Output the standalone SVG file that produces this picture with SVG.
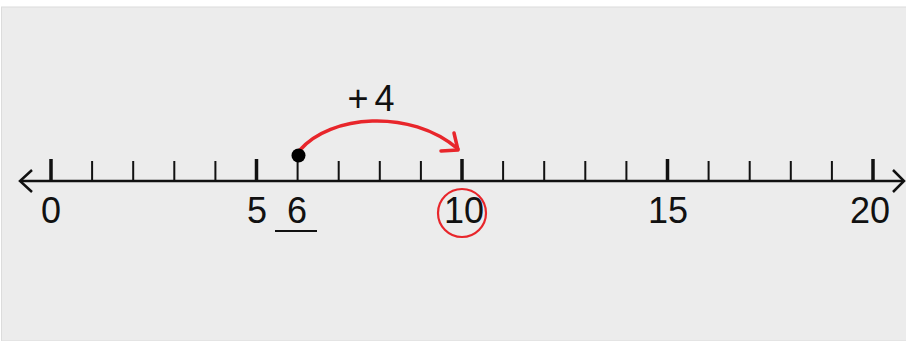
<svg xmlns="http://www.w3.org/2000/svg" width="906" height="341" viewBox="0 0 906 341">
<style>
.tk{stroke:#111;stroke-width:2}
.mj{stroke:#111;stroke-width:3.5}
.lb{font-family:"Liberation Sans",Arial,sans-serif;font-size:36px;fill:#111;text-anchor:middle}
.red{stroke:#e8262b;fill:none;stroke-width:3.5;stroke-linecap:round;stroke-linejoin:round}
</style>
<rect x="0" y="0" width="906" height="341" fill="#ffffff"/>
<rect x="1.5" y="7" width="905" height="334" fill="#ececec" stroke="#dcdcdc" stroke-width="1"/>
<g id="axis">
<line x1="20" y1="181" x2="904" y2="181" stroke="#111" stroke-width="2.5"/>
<polyline points="32,170 20,181 32,192" fill="none" stroke="#111" stroke-width="2.5"/>
<polyline points="893,170 904,181 893,192" fill="none" stroke="#111" stroke-width="2.5"/>
</g>
<g id="ticks">
<line class="mj" x1="51" y1="159" x2="51" y2="181"/>
<line class="tk" x1="92.1" y1="161" x2="92.1" y2="181"/>
<line class="tk" x1="133.2" y1="161" x2="133.2" y2="181"/>
<line class="tk" x1="174.3" y1="161" x2="174.3" y2="181"/>
<line class="tk" x1="215.4" y1="161" x2="215.4" y2="181"/>
<line class="mj" x1="256.5" y1="159" x2="256.5" y2="181"/>
<line class="tk" x1="297.6" y1="156" x2="297.6" y2="181"/>
<line class="tk" x1="338.7" y1="161" x2="338.7" y2="181"/>
<line class="tk" x1="379.8" y1="161" x2="379.8" y2="181"/>
<line class="tk" x1="420.9" y1="161" x2="420.9" y2="181"/>
<line class="mj" x1="462" y1="159" x2="462" y2="181"/>
<line class="tk" x1="503.1" y1="161" x2="503.1" y2="181"/>
<line class="tk" x1="544.2" y1="161" x2="544.2" y2="181"/>
<line class="tk" x1="585.3" y1="161" x2="585.3" y2="181"/>
<line class="tk" x1="626.4" y1="161" x2="626.4" y2="181"/>
<line class="mj" x1="667.5" y1="159" x2="667.5" y2="181"/>
<line class="tk" x1="708.6" y1="161" x2="708.6" y2="181"/>
<line class="tk" x1="749.7" y1="161" x2="749.7" y2="181"/>
<line class="tk" x1="790.8" y1="161" x2="790.8" y2="181"/>
<line class="tk" x1="831.9" y1="161" x2="831.9" y2="181"/>
<line class="mj" x1="873" y1="159" x2="873" y2="181"/>
</g>
<g id="labels">
<text class="lb" x="51" y="223">0</text>
<text class="lb" x="257" y="223">5</text>
<text class="lb" x="297" y="223">6</text>
<line x1="275" y1="231" x2="317" y2="231" stroke="#111" stroke-width="2.2"/>
<text class="lb" x="464" y="223">10</text>
<text class="lb" x="668" y="223">15</text>
<text class="lb" x="870" y="223">20</text>
</g>
<g id="answer">
<circle cx="462" cy="213" r="24" fill="none" stroke="#e8262b" stroke-width="2.2"/>
</g>
<g id="jump">
<path class="red" d="M300,150 C330,115 410,108 458,149"/>
<polyline class="red" points="454,133 458,150 441,151"/>
<circle cx="298.5" cy="155.5" r="7" fill="#000"/>
<text class="lb" x="374" y="111" letter-spacing="6">+4</text>
</g>
</svg>
